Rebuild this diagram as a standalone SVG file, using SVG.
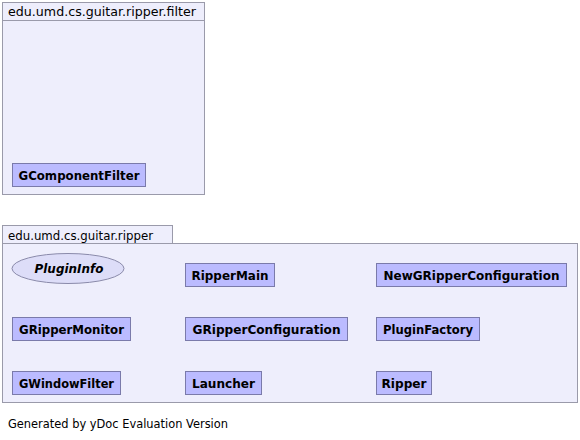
<svg xmlns="http://www.w3.org/2000/svg" width="580" height="440" viewBox="0 0 580 440">
<style>
.pkg{fill:#eeeefc;stroke:#9a9aaa;stroke-width:1}
.cls{fill:#bbbbff;stroke:#7a7aaa;stroke-width:1}
.ell{fill:#ddddf8;stroke:#8a8aaa;stroke-width:1}
.pt{font-family:"DejaVu Sans",sans-serif;font-size:12.5px;fill:#000}
.ct{font-family:"DejaVu Sans",sans-serif;font-size:12.5px;font-weight:bold;fill:#000}
.it{font-family:"DejaVu Sans",sans-serif;font-size:12.5px;font-weight:bold;font-style:italic;fill:#000}
.ft{font-family:"DejaVu Sans",sans-serif;font-size:12px;fill:#000}
</style>
<rect width="580" height="440" fill="#ffffff"/>
<g id="pkg-filter">
<rect class="pkg" x="2.5" y="2.5" width="202" height="192"/>
<line x1="2.5" y1="20.5" x2="204.5" y2="20.5" stroke="#9a9aaa"/>
<text class="pt" x="8" y="16" textLength="188" lengthAdjust="spacingAndGlyphs">edu.umd.cs.guitar.ripper.filter</text>
</g>
<g id="pkg-ripper">
<rect class="pkg" x="2.5" y="225.5" width="170" height="18"/>
<rect class="pkg" x="2.5" y="243.5" width="575" height="159"/>
<text class="pt" x="8" y="239.5" textLength="145" lengthAdjust="spacingAndGlyphs">edu.umd.cs.guitar.ripper</text>
</g>
<g id="connectors"></g>
<g id="GComponentFilter">
<rect class="cls" x="12.5" y="163.5" width="133" height="23"/>
<text class="ct" x="79" y="180" text-anchor="middle" textLength="121" lengthAdjust="spacingAndGlyphs">GComponentFilter</text>
</g>
<g id="PluginInfo">
<ellipse class="ell" cx="68" cy="268.5" rx="56" ry="15"/>
<text class="it" x="69" y="273" text-anchor="middle" textLength="69" lengthAdjust="spacingAndGlyphs">PluginInfo</text>
</g>
<g id="RipperMain">
<rect class="cls" x="185.5" y="263.5" width="89" height="23"/>
<text class="ct" x="230" y="280" text-anchor="middle" textLength="77" lengthAdjust="spacingAndGlyphs">RipperMain</text>
</g>
<g id="NewGRipperConfiguration">
<rect class="cls" x="376.5" y="263.5" width="190" height="23"/>
<text class="ct" x="471.5" y="280" text-anchor="middle" textLength="176" lengthAdjust="spacingAndGlyphs">NewGRipperConfiguration</text>
</g>
<g id="GRipperMonitor">
<rect class="cls" x="12.5" y="317.5" width="118" height="23"/>
<text class="ct" x="71.5" y="334" text-anchor="middle" textLength="105" lengthAdjust="spacingAndGlyphs">GRipperMonitor</text>
</g>
<g id="GRipperConfiguration">
<rect class="cls" x="185.5" y="317.5" width="162" height="23"/>
<text class="ct" x="266.5" y="334" text-anchor="middle" textLength="148" lengthAdjust="spacingAndGlyphs">GRipperConfiguration</text>
</g>
<g id="PluginFactory">
<rect class="cls" x="376.5" y="317.5" width="103" height="23"/>
<text class="ct" x="428" y="334" text-anchor="middle" textLength="90" lengthAdjust="spacingAndGlyphs">PluginFactory</text>
</g>
<g id="GWindowFilter">
<rect class="cls" x="12.5" y="371.5" width="108" height="23"/>
<text class="ct" x="66.5" y="388" text-anchor="middle" textLength="95" lengthAdjust="spacingAndGlyphs">GWindowFilter</text>
</g>
<g id="Launcher">
<rect class="cls" x="185.5" y="371.5" width="76" height="23"/>
<text class="ct" x="223.5" y="388" text-anchor="middle" textLength="63" lengthAdjust="spacingAndGlyphs">Launcher</text>
</g>
<g id="Ripper">
<rect class="cls" x="376.5" y="371.5" width="55" height="23"/>
<text class="ct" x="404" y="388" text-anchor="middle" textLength="45" lengthAdjust="spacingAndGlyphs">Ripper</text>
</g>
<text class="ft" x="8" y="428" textLength="220" lengthAdjust="spacingAndGlyphs">Generated by yDoc Evaluation Version</text>
</svg>
